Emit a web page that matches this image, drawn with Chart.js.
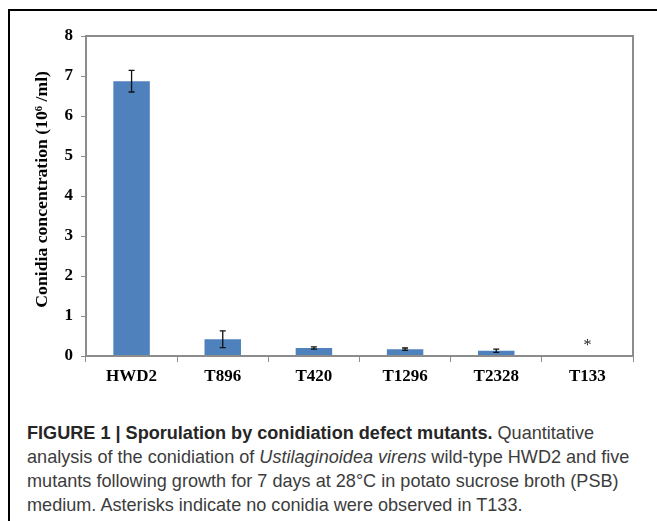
<!DOCTYPE html>
<html>
<head>
<meta charset="utf-8">
<script src="https://cdn.jsdelivr.net/npm/chart.js@4"></script>
<style>
  body { margin: 0; background: #fff; width: 657px; height: 521px; overflow: hidden; position: relative; }
  #frame { position: absolute; left: 8px; top: 9px; width: 660px; height: 520px; border-left: 2px solid #000; border-top: 2px solid #000; }
  #chart { position: absolute; left: 0; top: 0; }
  #caption { position: absolute; left: 27px; top: 421px; width: 630px; font-family: "Liberation Sans", Arial, sans-serif; font-size: 18.1px; line-height: 24px; color: #3c3c3c; white-space: nowrap; }
  #caption b { color: #262626; }
</style>
</head>
<body>
<div id="frame"></div>
<canvas id="chart" width="657" height="400"></canvas>
<div id="caption"><b>FIGURE 1 | Sporulation by conidiation defect mutants.</b> Quantitative<br>analysis of the conidiation of <i>Ustilaginoidea virens</i> wild-type HWD2 and five<br>mutants following growth for 7 days at 28°C in potato sucrose broth (PSB)<br>medium. Asterisks indicate no conidia were observed in T133.</div>
<script>
// Sporulation data
const strains = ['HWD2', 'T896', 'T420', 'T1296', 'T2328', 'T133'];
const conidia = [6.87, 0.42, 0.20, 0.17, 0.13, 0];
const errors = [0.27, 0.21, 0.03, 0.03, 0.04, 0];
const marks = ['', '', '', '', '', '*'];
const yTicks = [0, 1, 2, 3, 4, 5, 6, 7, 8];

const serif = 'Liberation Serif, Times New Roman, serif';

// error bars, asterisks and the grey plot box
const extras = {
  id: 'extras',
  afterDatasetsDraw(chart) {
    const ctx = chart.ctx;
    const y = chart.scales.y;
    const a = chart.chartArea;
    const meta = chart.getDatasetMeta(0);
    ctx.save();
    ctx.strokeStyle = '#8c8c8c';
    ctx.lineWidth = 2;
    ctx.strokeRect(a.left, a.top, a.right - a.left, a.bottom - a.top);

    ctx.strokeStyle = '#111';
    ctx.lineWidth = 1.3;
    meta.data.forEach(function(bar, i) {
      if (errors[i] > 0) {
        const hi = y.getPixelForValue(conidia[i] + errors[i]);
        const lo = y.getPixelForValue(conidia[i] - errors[i]);
        ctx.beginPath();
        ctx.moveTo(bar.x, hi); ctx.lineTo(bar.x, lo);
        ctx.moveTo(bar.x - 3, hi); ctx.lineTo(bar.x + 3, hi);
        ctx.moveTo(bar.x - 3, lo); ctx.lineTo(bar.x + 3, lo);
        ctx.stroke();
      }
      if (marks[i]) {
        ctx.fillStyle = '#222';
        ctx.font = '16px ' + serif;
        ctx.textAlign = 'center';
        ctx.textBaseline = 'middle';
        ctx.fillText(marks[i], bar.x, y.getPixelForValue(conidia[i] + errors[i]) - 10);
      }
    });
    ctx.restore();
  }
};

new Chart(document.getElementById('chart'), {
  type: 'bar',
  data: {
    labels: strains,
    datasets: [{
      data: conidia,
      backgroundColor: '#4F81BD',
      borderWidth: 0,
      barPercentage: 0.4,
      categoryPercentage: 1
    }]
  },
  options: {
    responsive: false,
    animation: false,
    layout: { padding: { top: 36, right: 24, left: 0, bottom: 0 } },
    plugins: {
      legend: { display: false },
      tooltip: { enabled: false }
    },
    scales: {
      x: {
        grid: { drawOnChartArea: false, drawTicks: true, tickLength: 6, color: '#8c8c8c', offset: true },
        border: { display: false },
        ticks: { color: '#000', font: { family: serif, size: 17, weight: 'bold' }, padding: 4 },
        afterFit(scale) { scale.height = 44; }
      },
      y: {
        min: 0,
        max: 8,
        afterBuildTicks(scale) { scale.ticks = yTicks.map(v => ({ value: v })); },
        grid: { drawOnChartArea: false, drawTicks: true, tickLength: 5, color: '#8c8c8c' },
        border: { display: false },
        ticks: { color: '#000', font: { family: serif, size: 17, weight: 'bold' }, padding: 8 },
        title: {
          display: true,
          text: '   Conidia concentration (10⁶ /ml)',
          color: '#000',
          font: { family: serif, size: 17.7, weight: 'bold' },
          padding: { top: 32, bottom: 0 }
        },
        afterFit(scale) { scale.width = 86; }
      }
    }
  },
  plugins: [extras]
});
</script>
</body>
</html>
